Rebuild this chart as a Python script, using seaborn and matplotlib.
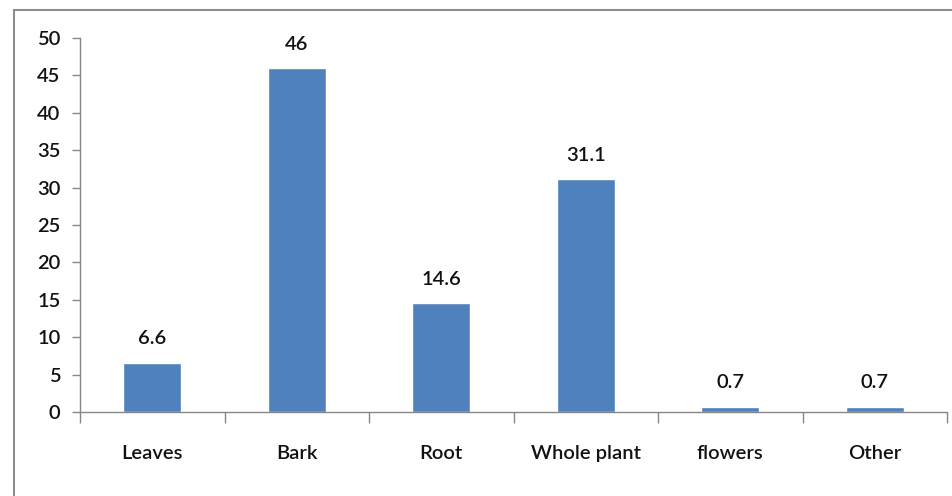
import matplotlib
matplotlib.use("Agg")
import matplotlib.pyplot as plt
from matplotlib.patches import Rectangle
import seaborn as sns
import pandas as pd

categories = ["Leaves", "Bark", "Root", "Whole plant", "flowers", "Other"]
values = [6.6, 46, 14.6, 31.1, 0.7, 0.7]
value_labels = ["6.6", "46", "14.6", "31.1", "0.7", "0.7"]
y_ticks = [0, 5, 10, 15, 20, 25, 30, 35, 40, 45, 50]

sns.set_theme(style="white")
plt.rcParams["font.family"] = ["Lato", "DejaVu Sans"]
plt.rcParams["font.weight"] = "semibold"

df = pd.DataFrame({"part": categories, "value": values})

fig = plt.figure(figsize=(9.52, 4.96), dpi=100)
fig.patch.set_facecolor("white")
# outer chart-area frame
fig.add_artist(Rectangle((14 / 952, -0.1), 1.2, (496 - 10) / 496 + 0.1,
                         transform=fig.transFigure, fill=False,
                         edgecolor="#8c8c8c", linewidth=1.5))

ax = fig.add_axes([80 / 952, (496 - 412) / 496, (947 - 80) / 952, (412 - 38) / 496])
sns.barplot(data=df, x="part", y="value", color="#4F81BD", width=0.4,
            saturation=1, ax=ax)

ax.set_ylim(0, 50)
ax.set_xlim(-0.5, len(categories) - 0.5)
ax.set_yticks(y_ticks)
ax.set_xlabel("")
ax.set_ylabel("")

for side in ("top", "right"):
    ax.spines[side].set_visible(False)
for side in ("left", "bottom"):
    ax.spines[side].set_color("#868686")
    ax.spines[side].set_linewidth(1.0)

fs = 14.5
ax.tick_params(axis="y", which="major", direction="out", length=6, width=1,
               color="#868686", labelsize=fs, pad=8, left=True)
ax.tick_params(axis="x", which="major", length=0, labelsize=fs, pad=24)
ax.set_xticks(range(len(categories)))
ax.set_xticklabels(categories)
ax.set_xticks([i + 0.5 for i in range(-1, len(categories))], minor=True)
ax.tick_params(axis="x", which="minor", direction="out", length=8, width=1,
               color="#868686", bottom=True)

for lab in ax.get_xticklabels() + ax.get_yticklabels():
    lab.set_color("#111111")
    lab.set_fontweight("semibold")

for i, (v, t) in enumerate(zip(values, value_labels)):
    ax.annotate(t, (i, v), xytext=(0, 11), textcoords="offset points",
                ha="center", va="bottom", fontsize=fs, color="#111111",
                fontweight="semibold")

fig.savefig("out.png", dpi=100, facecolor="white")
